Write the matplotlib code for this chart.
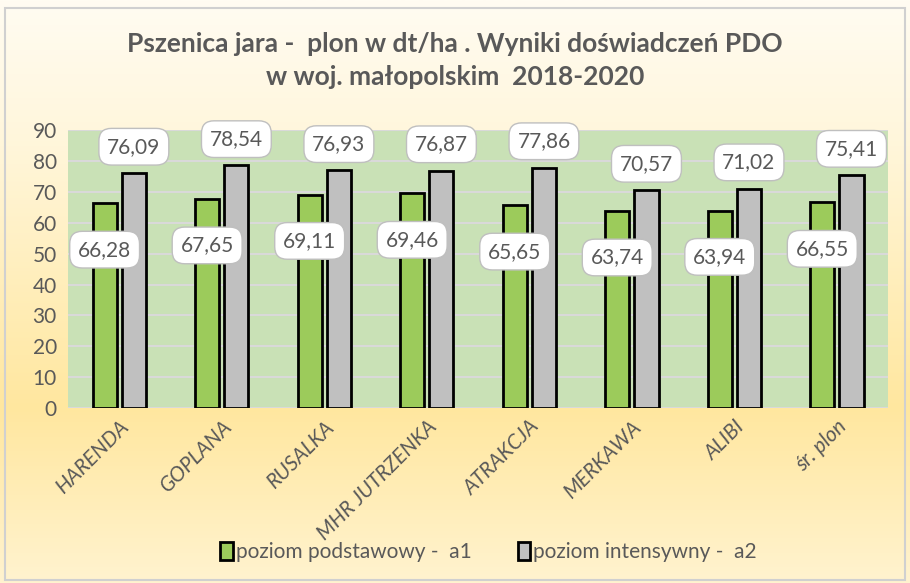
"""Pszenica jara - plon w dt/ha, wyniki doświadczeń PDO (woj. małopolskie)."""
import numpy as np
import matplotlib.pyplot as plt
from matplotlib.colors import LinearSegmentedColormap
from matplotlib.patches import Rectangle

odmiany = ["HARENDA", "GOPLANA", "RUSALKA", "MHR JUTRZENKA", "ATRAKCJA",
           "MERKAWA", "ALIBI", "śr. plon"]
a1 = [66.28, 67.65, 69.11, 69.46, 65.65, 63.74, 63.94, 66.55]
a2 = [76.09, 78.54, 76.93, 76.87, 77.86, 70.57, 71.02, 75.41]
seria = ["poziom podstawowy -  a1", "poziom intensywny -  a2"]

TXT = "#595959"
plt.rcParams['font.family'] = ['Lato', 'DejaVu Sans']

fig = plt.figure(figsize=(9.1, 5.83), dpi=100)

# background gradient
bg = fig.add_axes([0, 0, 1, 1], zorder=-10)
cmap = LinearSegmentedColormap.from_list(
    "bg", [(0, "#FFF3CF"), (0.3, "#FFE79F"), (0.75, "#FFF6DA"), (1, "#FFFCF2")])
grad = np.linspace(0, 1, 256).reshape(-1, 1)
bg.imshow(grad, aspect='auto', cmap=cmap, extent=[0, 1, 0, 1], origin='lower')
bg.add_patch(Rectangle((0.006, 0.006), 0.988, 0.98, fill=False,
                       edgecolor="#D0D0D0", lw=1.5, transform=bg.transAxes))
bg.set_xlim(0, 1)
bg.set_ylim(0, 1)
bg.axis('off')

ax = fig.add_axes([0.0747, 0.300, 0.9013, 0.477])
ax.set_facecolor("#C9E1B6")

x = np.arange(len(odmiany))
w = 0.235
gap = 0.05
off = (w + gap) / 2
b1 = ax.bar(x - off, a1, w, color="#9CCB5B", edgecolor="black", lw=2,
            label=seria[0], zorder=3)
b2 = ax.bar(x + off, a2, w, color="#C0C0C0", edgecolor="black", lw=2,
            label=seria[1], zorder=3)

box = dict(boxstyle="round,pad=0.4,rounding_size=0.6", fc="white",
           ec="#BFBFBF", lw=1)
for xi, v in zip(x, a1):
    ax.text(xi - off, v - 15, f"{v:.2f}".replace(".", ","), ha='center',
            va='center', fontsize=15, color=TXT, bbox=box, zorder=5)
for xi, v in zip(x, a2):
    ax.text(xi + off, v + 8.5, f"{v:.2f}".replace(".", ","), ha='center',
            va='center', fontsize=15, color=TXT, bbox=box, zorder=5)

ax.set_xlim(-0.5, len(odmiany) - 0.5)
ax.set_ylim(0, 90)
ax.set_yticks(range(0, 91, 10))
ax.yaxis.grid(True, color="#D9D9D9", lw=1.5, zorder=0)
ax.set_axisbelow(True)
for s in ax.spines.values():
    s.set_visible(False)
ax.tick_params(length=0, labelcolor=TXT)
ax.tick_params(axis='y', labelsize=15, pad=8)
ax.tick_params(axis='x', pad=6)
ax.set_xticks(x)
ax.set_xticklabels(odmiany, rotation=45, ha='right', rotation_mode='anchor',
                   fontsize=15, style='italic')

fig.suptitle("Pszenica jara -  plon w dt/ha . Wyniki doświadczeń PDO\n"
             "w woj. małopolskim  2018-2020", y=0.945, fontsize=19,
             fontweight='bold', color=TXT, linespacing=1.45)

fig.legend(handles=[b1, b2], loc='center', bbox_to_anchor=(0.537, 0.053),
           ncol=2, frameon=False, fontsize=15, labelcolor=TXT,
           handlelength=0.6, handleheight=0.9, handletextpad=0.15,
           columnspacing=2.2)

fig.savefig("out.png", dpi=100)
